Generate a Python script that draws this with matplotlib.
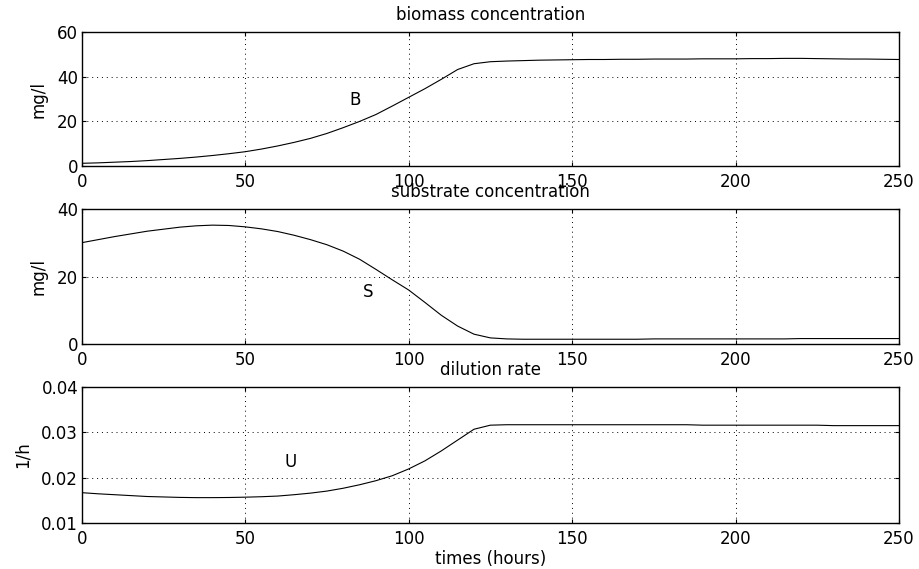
#!/usr/bin/env python3

import matplotlib

matplotlib.use("Agg")
import matplotlib.pyplot as plt


# sample times (hours), every 5 h
TIMES = list(range(0, 255, 5))

BIOMASS = [
    1.2, 1.4, 1.7, 2.0, 2.4, 2.9, 3.4, 4.0, 4.7, 5.5,
    6.4, 7.6, 9.0, 10.6, 12.4, 14.6, 17.2, 20.0, 23.1, 26.9,
    30.8, 34.7, 38.9, 43.3, 45.9, 46.8, 47.1, 47.3, 47.5, 47.6,
    47.7, 47.8, 47.8, 47.9, 47.9, 48.0, 48.0, 48.0, 48.1, 48.1,
    48.1, 48.2, 48.2, 48.3, 48.3, 48.2, 48.1, 48.0, 48.0, 47.9,
    47.8,
]

SUBSTRATE = [
    30.1, 31.0, 31.9, 32.7, 33.5, 34.1, 34.7, 35.1, 35.3, 35.2,
    34.8, 34.2, 33.4, 32.3, 31.0, 29.5, 27.6, 25.2, 22.2, 19.1,
    16.1, 12.4, 8.6, 5.4, 3.0, 1.9, 1.6, 1.5, 1.5, 1.5,
    1.5, 1.5, 1.5, 1.5, 1.5, 1.6, 1.6, 1.6, 1.6, 1.6,
    1.6, 1.6, 1.6, 1.6, 1.7, 1.7, 1.7, 1.7, 1.7, 1.7,
    1.7,
]

DILUTION = [
    0.01665, 0.0164, 0.0162, 0.0160, 0.0158, 0.0157, 0.0156, 0.01555, 0.01555, 0.01558,
    0.01565, 0.01575, 0.0159, 0.0162, 0.01655, 0.0170, 0.01763, 0.0184, 0.0193, 0.0204,
    0.0219, 0.0237, 0.0259, 0.0283, 0.0307, 0.0316, 0.0317, 0.0317, 0.0317, 0.0317,
    0.0317, 0.0317, 0.0317, 0.0317, 0.0317, 0.0317, 0.0317, 0.0317, 0.0316, 0.0316,
    0.0316, 0.0316, 0.0316, 0.0316, 0.0316, 0.0316, 0.0315, 0.0315, 0.0315, 0.0315,
    0.0315,
]

X_TICKS = [0, 50, 100, 150, 200, 250]
PANELS = [
    # title, ylabel, series, yticks, tick labels, curve tag, tag position
    ("biomass concentration", "mg/l", BIOMASS, [0, 20, 40, 60], ["0", "20", "40", "60"], "B", (83.6, 29.6)),
    ("substrate concentration", "mg/l", SUBSTRATE, [0, 20, 40], ["0", "20", "40"], "S", (87.5, 15.5)),
    ("dilution rate", "1/h", DILUTION, [0.01, 0.02, 0.03, 0.04], ["0.01", "0.02", "0.03", "0.04"], "U", (64.0, 0.0235)),
]

# axes boxes in figure fractions (left, bottom, width, height)
BOXES = [
    (0.0889, 0.7083, 0.8893, 0.2349),
    (0.0889, 0.3949, 0.8893, 0.2373),
    (0.0889, 0.0814, 0.8893, 0.2380),
]

FONT_SIZE = 12


def configure_matplotlib() -> None:
    plt.rcParams["font.family"] = ["DejaVu Sans"]
    plt.rcParams["font.size"] = FONT_SIZE
    plt.rcParams["axes.linewidth"] = 1.0
    plt.rcParams["xtick.direction"] = "in"
    plt.rcParams["ytick.direction"] = "in"
    plt.rcParams["xtick.top"] = True
    plt.rcParams["ytick.right"] = True
    plt.rcParams["xtick.major.size"] = 3
    plt.rcParams["ytick.major.size"] = 3
    plt.rcParams["xtick.major.pad"] = 5
    plt.rcParams["ytick.major.pad"] = 2.5


def draw_panel(fig, box, panel, is_last):
    title, ylabel, series, yticks, ylabels, tag, tag_pos = panel
    ax = fig.add_axes(box)
    ax.plot(TIMES, series, color="black", linewidth=0.8)
    ax.set_xlim(0, 250)
    ax.set_ylim(yticks[0], yticks[-1])
    ax.set_xticks(X_TICKS)
    ax.set_xticklabels([str(v) for v in X_TICKS])
    ax.set_yticks(yticks)
    ax.set_yticklabels(ylabels)
    ax.grid(True, color="black", linestyle=(0, (1, 4)), linewidth=0.7)
    ax.set_title(title, fontsize=FONT_SIZE, pad=9)
    ax.set_ylabel(ylabel, labelpad=7)
    ax.text(tag_pos[0], tag_pos[1], tag, ha="center", va="center", fontsize=FONT_SIZE)
    if is_last:
        ax.set_xlabel("times (hours)", labelpad=2)
    return ax


def main() -> None:
    configure_matplotlib()
    fig = plt.figure(figsize=(9.19, 5.69), dpi=100)
    for i, (box, panel) in enumerate(zip(BOXES, PANELS)):
        draw_panel(fig, box, panel, i == len(PANELS) - 1)
    fig.savefig("out.png", dpi=100, facecolor="white")
    plt.close(fig)


if __name__ == "__main__":
    main()
